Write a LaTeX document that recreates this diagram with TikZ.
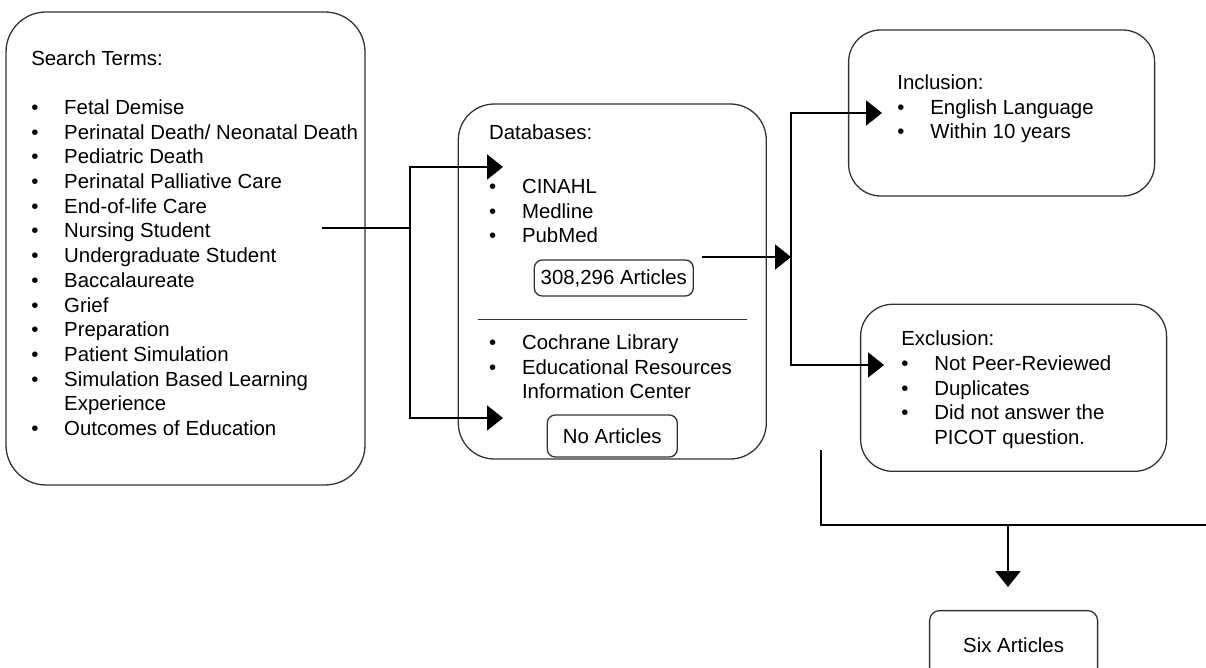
\documentclass[tikz,border=0pt]{standalone}
\usepackage{fontspec}
\setmainfont{Liberation Sans}
\usetikzlibrary{positioning,arrows.meta}

\newcommand{\bul}{\makebox[16.5pt][l]{\textbullet}}
\newcommand{\nobul}{\makebox[16.5pt][l]{}}

\begin{document}
\begin{tikzpicture}[%
    every node/.style={inner sep=0pt, font=\fontsize{10.2}{12.35}\selectfont},
    box/.style={draw=black!80, line width=0.65pt, rounded corners=#1},
    box/.default=18pt,
    txt/.style={align=left},
    conn/.style={line width=1pt},
    >={Triangle[length=8pt,width=12.5pt]}
  ]
  \useasboundingbox (0,0) rectangle (603pt,-334pt);

  \node [] (search) [box=20pt, minimum width=179.5pt, minimum height=236.5pt] at (92.75pt,-124.25pt) {};
  \node [] (db) [box, minimum width=154pt, minimum height=177.5pt, right=46pt of search, yshift=-16.5pt] {};
  \node [] (incl) [box=16pt, minimum width=153pt, minimum height=83pt, right=40.5pt of db, yshift=84.25pt] {};
  \node [] (excl) [box=16pt, minimum width=153pt, minimum height=83.5pt, below=53.5pt of incl, xshift=6pt] {};
  \node [] (six) [box=5pt, minimum width=84pt, minimum height=35pt, below=69pt of excl] {Six Articles};
  \node [] (count) [box=4pt, minimum width=79.5pt, minimum height=18pt, below=78pt of db.north, xshift=0.75pt] {308,296 Articles};
  \node [] (noart) [box=4pt, minimum width=65pt, minimum height=21pt, above=1pt of db.south] {No Articles};

  \node [] (stxt) [txt, below right=19.25pt and 12.75pt of search.north west] {Search Terms:\\[12.35pt]
    \bul Fetal Demise\\ \bul Perinatal Death/ Neonatal Death\\ \bul Pediatric Death\\
    \bul Perinatal Palliative Care\\ \bul End-of-life Care\\ \bul Nursing Student\\
    \bul Undergraduate Student\\ \bul Baccalaureate\\ \bul Grief\\ \bul Preparation\\
    \bul Patient Simulation\\ \bul Simulation Based Learning\\ \nobul Experience\\
    \bul Outcomes of Education};
  \node [] (dtxt1) [txt, below right=10.5pt and 15.5pt of db.north west] {Databases:\\[14.65pt]
    \bul CINAHL\\ \bul Medline\\ \bul PubMed};
  \node [] (dtxt2) [txt, below right=115.5pt and 15.5pt of db.north west] {\bul Cochrane Library\\
    \bul Educational Resources\\ \nobul Information Center};
  \node [] (itxt) [txt, below right=22.5pt and 24.5pt of incl.north west] {Inclusion:\\
    \bul English Language\\ \bul Within 10 years};
  \node [] (etxt) [txt, below right=13.5pt and 20.5pt of excl.north west] {Exclusion:\\
    \bul Not Peer-Reviewed\\ \bul Duplicates\\ \bul Did not answer the\\ \nobul PICOT question.};

  \draw [line width=0.5pt, black!80] ([shift={(10pt,-19.25pt)}]db.west) -- ([shift={(-10pt,-19.25pt)}]db.east);

  \coordinate (sOut) at (161pt,-114pt);
  \coordinate (fork1) at (205pt,-114pt);
  \coordinate (dbIn1) at (251.5pt,-83.5pt);
  \coordinate (dbIn2) at (251.5pt,-209pt);
  \coordinate (dbOut) at (351pt,-128.5pt);
  \coordinate (fork2) at (395.5pt,-128.5pt);
  \coordinate (inIn) at (441pt,-56.5pt);
  \coordinate (exIn) at (442pt,-182.5pt);
  \coordinate (exOut) at (410.5pt,-225pt);
  \coordinate (fork3) at (504pt,-262.5pt);
  \coordinate (rEdge) at (603pt,-262.5pt);
  \coordinate (sixIn) at (504pt,-293.5pt);

  \draw [conn] (sOut) -- (fork1);
  \draw [conn,->] (fork1) |- (dbIn1);
  \draw [conn,->] (fork1) |- (dbIn2);
  \draw [conn,->] (dbOut) -- (fork2);
  \draw [conn,->] (fork2) |- (inIn);
  \draw [conn,->] (fork2) |- (exIn);
  \draw [conn] (exOut) |- (rEdge);
  \draw [conn,->] (fork3) -- (sixIn);
\end{tikzpicture}
\end{document}
